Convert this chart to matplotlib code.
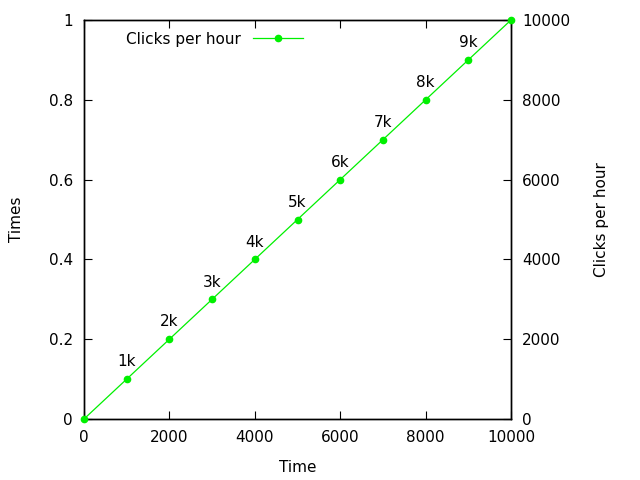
import matplotlib
matplotlib.use("Agg")
import matplotlib.pyplot as plt

clicks_x = [0, 1000, 2000, 3000, 4000, 5000, 6000, 7000, 8000, 9000, 10000]
clicks_y = [0, 1000, 2000, 3000, 4000, 5000, 6000, 7000, 8000, 9000, 10000]
point_labels = ["", "1k", "2k", "3k", "4k", "5k", "6k", "7k", "8k", "9k", ""]
left_ticks = [0, 0.2, 0.4, 0.6, 0.8, 1]
left_tick_labels = ["0", "0.2", "0.4", "0.6", "0.8", "1"]
x_ticks = [0, 2000, 4000, 6000, 8000, 10000]
right_ticks = [0, 2000, 4000, 6000, 8000, 10000]

plt.rcParams['font.family'] = ['DejaVu Sans']
plt.rcParams['font.size'] = 11

fig = plt.figure(figsize=(6.4, 4.8), dpi=100)
ax = fig.add_axes([84/640, 1 - 419/480, (511 - 84)/640, (419 - 20)/480])
ax2 = ax.twinx()

green = '#00f000'
ax2.plot(clicks_x, clicks_y, color=green, lw=0.9, marker='o', markersize=4.5,
         label='Clicks per hour', clip_on=False, zorder=5)
for x, y, t in zip(clicks_x, clicks_y, point_labels):
    if t:
        ax2.annotate(t, (x, y), xytext=(0, 7), textcoords='offset points',
                     ha='center', va='bottom', fontsize=11)

ax.set_xlim(0, 10000)
ax.set_ylim(0, 1)
ax2.set_ylim(0, 10000)
ax.set_xticks(x_ticks)
ax.set_xticklabels([str(v) for v in x_ticks])
ax.set_yticks(left_ticks)
ax.set_yticklabels(left_tick_labels)
ax2.set_yticks(right_ticks)
ax2.set_yticklabels([str(v) for v in right_ticks])

ax.tick_params(axis='x', direction='in', top=True, length=6, pad=8)
ax.tick_params(axis='y', direction='in', length=6, pad=8)
ax2.tick_params(axis='y', direction='in', length=6, pad=8)

ax.set_xlabel('Time', labelpad=11)
ax.set_ylabel('Times', labelpad=18)
ax2.set_ylabel('Clicks per hour', labelpad=17)

for a in (ax, ax2):
    for s in a.spines.values():
        s.set_linewidth(1)

leg = ax2.legend(loc='upper left', bbox_to_anchor=(0.065, 1.005), frameon=False,
                 markerfirst=False, handlelength=3.3, handletextpad=0.8,
                 fontsize=11)

fig.savefig('out.png', dpi=100)
